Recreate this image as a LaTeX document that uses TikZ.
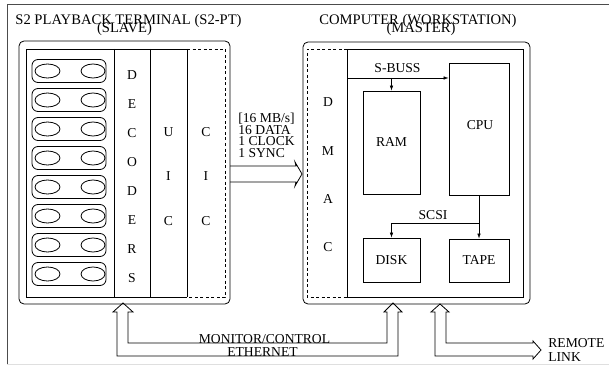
\documentclass[tikz,border=0pt]{standalone}
\usepackage{fontspec}
\setmainfont{Liberation Serif}
\usetikzlibrary{arrows.meta,shapes.geometric}
\newcommand\TitleFont{\fontsize{14.6}{8}\selectfont}
\newcommand\LabelFont{\fontsize{13.6}{11.5}\selectfont}
\begin{document}
\begin{tikzpicture}[x=1pt,y=-1pt,line width=0.8pt,
  ttl/.style={font=\TitleFont,inner sep=0pt,anchor=base},
  lbl/.style={font=\LabelFont,inner sep=0pt},
  lblbase/.style={font=\LabelFont,inner sep=0pt,anchor=base},
  box/.style={draw,inner sep=0pt,font=\LabelFont},
  bus/.style={-{Latex[length=5pt,width=3.5pt]},line width=0.6pt},
  shell/.style={draw,rounded corners=5pt},
  slot/.style={draw,rounded corners=6pt,minimum width=74pt,minimum height=23pt,inner sep=0pt},
  reel/.style={draw,ellipse,minimum width=25pt,minimum height=14pt,inner sep=0pt},
  dsh/.style={dash pattern=on 3pt off 2.5pt},
  dbl/.style={draw,line width=0.8pt,line join=miter}]
\useasboundingbox (0,0) rectangle (609,366);
% outer frame
\draw[gray!60!black,line width=0.9pt] (609,4) -- (7,4) -- (7,364);
\draw[gray!25,line width=0.9pt] (7,364) -- (609,364);

% ---------- slave ----------
\node[ttl] (t1) at (128.5,25) {S2 PLAYBACK TERMINAL (S2-PT)};
\node[ttl] (t2) at (124.5,33) {(SLAVE)};
\draw[shell] (19,41) rectangle (230,304);
\draw (187,49) -- (26,49) -- (26,297) -- (187,297);
\draw (114,49) -- (114,297);
\draw (150,49) -- (150,297);
\draw (187,49) -- (187,297);
\draw[dsh] (187,49) -- (225,49) -- (225,297) -- (187,297);
\foreach \k in {0,...,7}{
  \node[slot] (s\k) at (69,71+29*\k) {};
  \node[reel] (ra\k) at (47.5,71+29*\k) {};
  \node[reel,minimum width=24pt] (rb\k) at (93,71+29*\k) {};
}
\foreach \ch/\yy [count=\i] in {D/75,E/104,C/133,O/162,D/191,E/220,R/249,S/278}
  \node[lbl] (dec\i) at (132,\yy) {\ch};
\foreach \ch/\yy [count=\i] in {U/132,I/176,C/221}
  \node[lbl] (uic\i) at (168.5,\yy) {\ch};
\foreach \ch/\yy [count=\i] in {C/132,I/176,C/221}
  \node[lbl] (cic\i) at (206,\yy) {\ch};
% data link arrow
\draw[dbl] (230,166) -- (296,166) -- (295,162) -- (302,174) -- (295,186) -- (296,182) -- (230,182);
\node[lblbase,anchor=base west] (r1) at (238,123) {[16 MB/s]};
\node[lblbase,anchor=base west] (r2) at (238,134.5) {16 DATA};
\node[lblbase,anchor=base west] (r3) at (238,146) {1 CLOCK};
\node[lblbase,anchor=base west] (r4) at (238,157.5) {1 SYNC};

% ---------- master ----------
\node[ttl] (t3) at (418,25) {COMPUTER (WORKSTATION)};
\node[ttl] (t4) at (421,33) {(MASTER)};
\draw[shell] (303,42) rectangle (530,304);
\draw (347,49) rectangle (523,297);
\draw[dsh] (347,49) -- (307,49) -- (307,297) -- (347,297);
\foreach \ch/\yy [count=\i] in {D/102,M/151,A/199,C/247}
  \node[lbl] (dm\i) at (328,\yy) {\ch};
\node[box,minimum width=57pt,minimum height=103pt] (ram) at (391.5,142.5) {RAM};
\node[box,minimum width=60pt,minimum height=132pt] (cpu) at (479,129) {};
\node[lbl] (cpul) at (480,125) {CPU};
\node[box,minimum width=57pt,minimum height=44pt] (disk) at (391.5,260) {DISK};
\node[box,minimum width=60pt,minimum height=43pt] (tape) at (479,260.5) {TAPE};
\coordinate (sb) at (347,78);
\draw[bus] (sb) -- (sb -| cpu.west);
\draw[bus] (ram.north |- sb) -- (ram.north);
\node[lblbase] (sbl) at (397.5,73) {S-BUSS};
\coordinate (sj) at (479,223);
\draw[bus] (cpu.south) -- (tape.north);
\draw[bus] (sj) -| (disk.north);
\node[lblbase] (scl) at (433,219) {SCSI};

% ---------- monitor / control link ----------
\draw[dbl] (128,312) -- (133,312) -- (123,303) -- (113,312) -- (117,312) -- (117,356)
  -- (398,356) -- (398,312) -- (402,312) -- (393,303) -- (384,312) -- (387,312)
  -- (387,343) -- (128,343) -- cycle;
\node[lblbase] (mon) at (264.5,343) {MONITOR/CONTROL};
\node[lblbase] (eth) at (262.5,356) {ETHERNET};

% ---------- remote link ----------
\draw[dbl] (446,312) -- (449,312) -- (440,304) -- (431,312) -- (435,312) -- (435,356)
  -- (533,356) -- (533,359) -- (541,350) -- (533,341) -- (533,343) -- (446,343) -- cycle;
\node[lblbase,anchor=base west] (rem1) at (548,347) {REMOTE};
\node[lblbase,anchor=base west] (rem2) at (548,361) {LINK};
\end{tikzpicture}
\end{document}
